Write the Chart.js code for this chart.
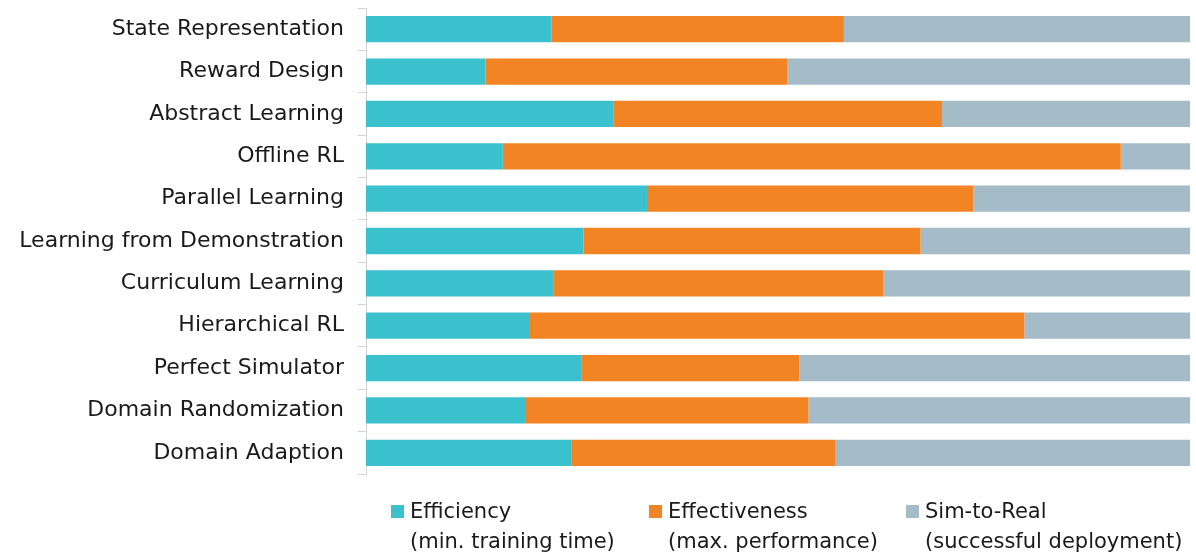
<!DOCTYPE html>
<html>
<head>
<meta charset="utf-8">
<script src="https://cdn.jsdelivr.net/npm/chart.js@4/dist/chart.umd.min.js"></script>
<style>
  html, body { margin: 0; padding: 0; background: #fff; }
  #wrap { position: relative; width: 1196px; height: 554px; }
  canvas { position: absolute; left: 0; top: 0; }
  #legend { position: absolute; left: 0; top: 0; width: 1196px; height: 554px; pointer-events: none;
            font-family: "DejaVu Sans", sans-serif; font-size: 21px; color: #1a1a1a; }
  .item { position: absolute; top: 496px; line-height: 30px; white-space: nowrap; }
  .box { position: absolute; left: -19px; top: 9px; width: 13px; height: 13px; }
</style>
</head>
<body>
<div id="wrap">
  <canvas id="c" width="1196" height="554"></canvas>
  <div id="legend"></div>
</div>
<script>
// Approaches compared, top to bottom
const categories = [
  "State Representation",
  "Reward Design",
  "Abstract Learning",
  "Offline RL",
  "Parallel Learning",
  "Learning from Demonstration",
  "Curriculum Learning",
  "Hierarchical RL",
  "Perfect Simulator",
  "Domain Randomization",
  "Domain Adaption"
];

// Share of each goal per approach (percent of the full bar)
const efficiency    = [22.5, 14.5, 30.0, 16.6, 34.1, 26.4, 22.8, 19.9, 26.2, 19.3, 24.9];
const effectiveness = [35.5, 36.6, 39.9, 75.0, 39.6, 40.9, 40.0, 60.0, 26.4, 34.4, 32.1];
const simToReal     = [42.0, 48.9, 30.1,  8.4, 26.3, 32.7, 37.2, 20.1, 47.4, 46.3, 43.0];

const seriesNames = [
  ["Efficiency", "(min. training time)"],
  ["Effectiveness", "(max. performance)"],
  ["Sim-to-Real", "(successful deployment)"]
];
const seriesColors = ["#3bc1cd", "#f38424", "#a6bbc8"];
const legendLeft = [410, 668, 925];

const seriesData = [efficiency, effectiveness, simToReal];

const chart = new Chart(document.getElementById("c"), {
  type: "bar",
  data: {
    labels: categories,
    datasets: seriesData.map((d, i) => ({
      label: seriesNames[i].join(" "),
      data: d,
      backgroundColor: seriesColors[i],
      borderWidth: 0,
      barPercentage: 0.62,
      categoryPercentage: 1.0
    }))
  },
  options: {
    indexAxis: "y",
    responsive: false,
    animation: false,
    layout: { padding: { left: 0, right: 6, top: 8, bottom: 80 } },
    plugins: { legend: { display: false }, tooltip: { enabled: false } },
    scales: {
      x: {
        stacked: true,
        display: false,
        min: 0,
        max: 100
      },
      y: {
        stacked: true,
        afterFit: (s) => { s.width = 366; s.paddingTop = 0; s.paddingBottom = 0; },
        grid: {
          offset: true,
          drawOnChartArea: false,
          drawTicks: true,
          tickLength: 8,
          color: "#d4d4d4",
          lineWidth: 1
        },
        border: { display: true, color: "#d4d4d4", width: 1 },
        ticks: {
          color: "#1a1a1a",
          padding: 14,
          font: { family: "'DejaVu Sans', sans-serif", size: 22 }
        }
      }
    }
  }
});

// Two-line legend below the plot, built from the datasets
const legend = document.getElementById("legend");
chart.data.datasets.forEach((ds, i) => {
  const item = document.createElement("div");
  item.className = "item";
  item.style.left = legendLeft[i] + "px";
  const box = document.createElement("span");
  box.className = "box";
  box.style.background = ds.backgroundColor;
  item.appendChild(box);
  item.appendChild(document.createTextNode(seriesNames[i][0]));
  item.appendChild(document.createElement("br"));
  item.appendChild(document.createTextNode(seriesNames[i][1]));
  legend.appendChild(item);
});
</script>
</body>
</html>
